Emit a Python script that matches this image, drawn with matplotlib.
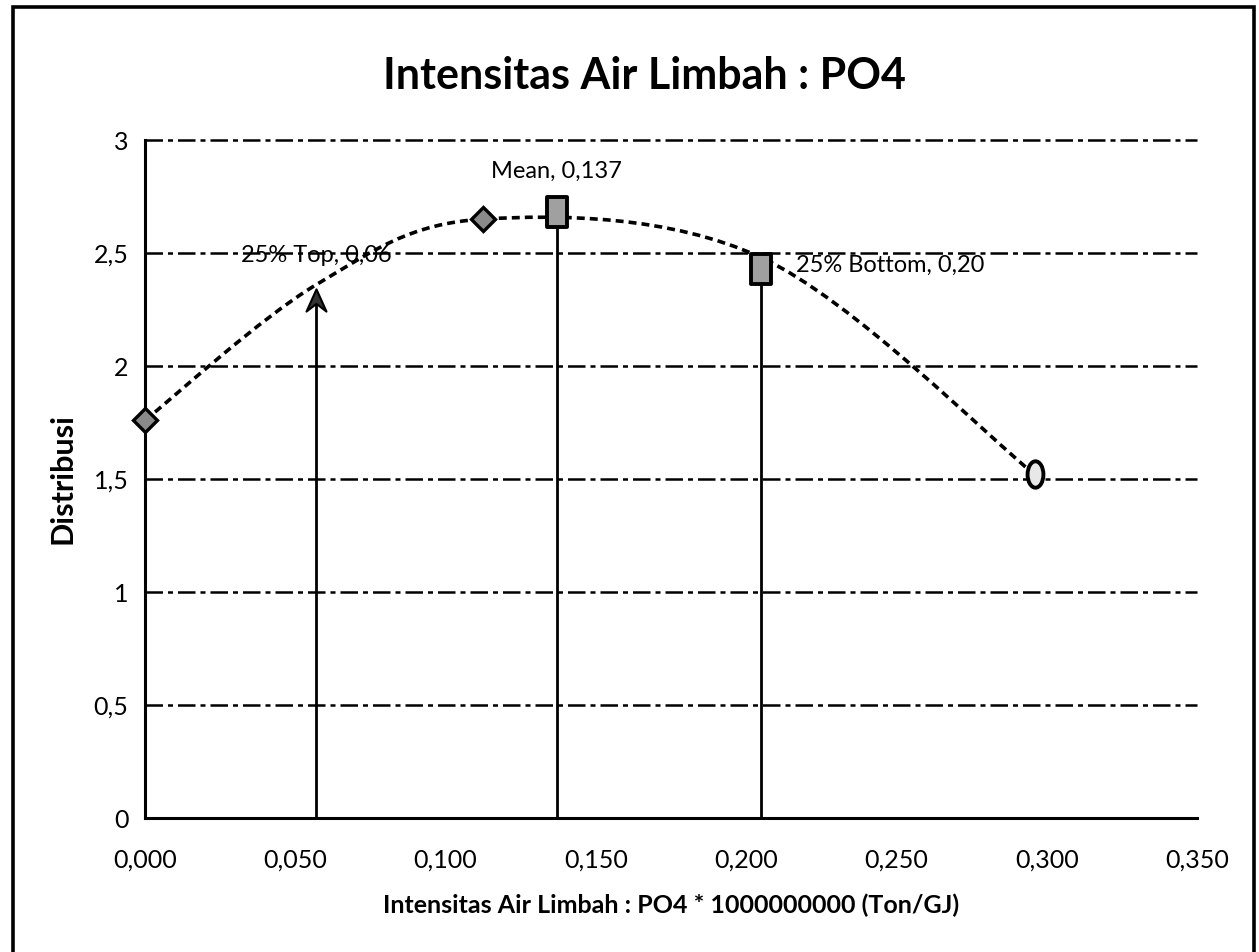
import matplotlib
matplotlib.use("Agg")
import matplotlib.pyplot as plt
from matplotlib.path import Path
from matplotlib.patches import PathPatch, Rectangle

# ---- data ----
curve_x = [0.000, 0.057, 0.1125, 0.205, 0.296]
curve_y = [1.76, 2.36, 2.65, 2.48, 1.52]

diamond_x = [0.000, 0.1125]
diamond_y = [1.76, 2.65]

top_x, top_y = 0.057, 2.29
mean_x, mean_y = 0.137, 2.68
bottom_x, bottom_y = 0.205, 2.43
end_x, end_y = 0.296, 1.52

label_top = "25% Top, 0,06"
label_mean = "Mean, 0,137"
label_bottom = "25% Bottom, 0,20"

xticks = [0.0, 0.05, 0.10, 0.15, 0.20, 0.25, 0.30, 0.35]
xticklabels = ["0,000", "0,050", "0,100", "0,150", "0,200", "0,250", "0,300", "0,350"]
yticks = [0, 0.5, 1, 1.5, 2, 2.5, 3]
yticklabels = ["0", "0,5", "1", "1,5", "2", "2,5", "3"]

title = "Intensitas Air Limbah : PO4"
xlabel = "Intensitas Air Limbah : PO4 * 1000000000 (Ton/GJ)"
ylabel = "Distribusi"

plt.rcParams['font.family'] = ['Lato', 'DejaVu Sans']

W, H = 1259, 952
fig = plt.figure(figsize=(W / 100, H / 100), dpi=100)
fig.patch.set_facecolor('white')

L, R, T, B = 145, 1197, 140, 818
ax = fig.add_axes([L / W, 1 - B / H, (R - L) / W, (B - T) / H])
ax.set_xlim(0, 0.35)
ax.set_ylim(0, 3)

# spines
for s in ['top', 'right']:
    ax.spines[s].set_visible(False)
ax.spines['left'].set_linewidth(2.2)
ax.spines['bottom'].set_linewidth(2.2)
ax.spines['left'].set_color('black')
ax.spines['bottom'].set_color('black')

ax.set_xticks(xticks)
ax.set_xticklabels(xticklabels)
ax.set_yticks(yticks)
ax.set_yticklabels(yticklabels)
ax.tick_params(axis='both', length=0, labelsize=18, colors='black')
ax.tick_params(axis='x', pad=22)
ax.tick_params(axis='y', pad=12)

# gridlines (dash-dot, as scanned)
for yv in yticks[1:]:
    ax.axhline(yv, color='black', lw=1.8, ls=(0, (7, 2, 2, 2)), zorder=1, clip_on=False)

# smoothed (Excel-like) curve through curve points
pts = list(zip(curve_x, curve_y))
verts = [pts[0]]
codes = [Path.MOVETO]
n = len(pts)
for i in range(n - 1):
    p0 = pts[i - 1] if i > 0 else pts[i]
    p1 = pts[i]
    p2 = pts[i + 1]
    p3 = pts[i + 2] if i + 2 < n else pts[i + 1]
    c1 = (p1[0] + (p2[0] - p0[0]) / 6, p1[1] + (p2[1] - p0[1]) / 6)
    c2 = (p2[0] - (p3[0] - p1[0]) / 6, p2[1] - (p3[1] - p1[1]) / 6)
    verts += [c1, c2, p2]
    codes += [Path.CURVE4] * 3
curve = PathPatch(Path(verts, codes), facecolor='none', edgecolor='black',
                  lw=2.6, ls=(0, (2.2, 1.4)), transform=ax.transData, zorder=3)
ax.add_patch(curve)

# vertical drop lines
ax.vlines([top_x, mean_x, bottom_x], 0, [top_y, mean_y, bottom_y],
          colors='black', lw=2.0, zorder=2)

# markers
ax.plot(diamond_x, diamond_y, ls='none', marker='D', ms=12, mfc='#8a8a8a',
        mec='black', mew=2.4, zorder=5, clip_on=False)

arrow = Path([(0, 0.5), (0.45, -0.5), (0, -0.15), (-0.45, -0.5), (0, 0.5)],
             [Path.MOVETO, Path.LINETO, Path.LINETO, Path.LINETO, Path.CLOSEPOLY])
ax.plot([top_x], [top_y], ls='none', marker=arrow, ms=16, mfc='#333333',
        mec='black', mew=1.5, zorder=5)

rect = Path([(-0.33, -0.5), (0.33, -0.5), (0.33, 0.5), (-0.33, 0.5), (-0.33, -0.5)],
            [Path.MOVETO, Path.LINETO, Path.LINETO, Path.LINETO, Path.CLOSEPOLY])
ax.plot([mean_x, bottom_x], [mean_y, bottom_y], ls='none', marker=rect, ms=21,
        mfc='#a0a0a0', mec='black', mew=2.8, zorder=5)

ellipse_m = Path.unit_circle().transformed(
    matplotlib.transforms.Affine2D().scale(0.3, 0.5))
ax.plot([end_x], [end_y], ls='none', marker=ellipse_m, ms=19, mfc='#e8e8e8',
        mec='black', mew=2.8, zorder=5)

# data labels
ax.text(top_x, 2.49, label_top, ha='center', va='center', fontsize=17, zorder=6)
ax.text(mean_x, 2.86, label_mean, ha='center', va='center', fontsize=17, zorder=6)
ax.text(0.2165, 2.445, label_bottom, ha='left', va='center', fontsize=17, zorder=6)

# titles
fig.text(644 / W, 1 - 76 / H, title, ha='center', va='center',
         fontsize=31, fontweight='bold')
fig.text(671 / W, 1 - 905 / H, xlabel, ha='center', va='center',
         fontsize=18, fontweight='bold')
fig.text(62 / W, 1 - 479 / H, ylabel, ha='center', va='center', rotation=90,
         fontsize=22, fontweight='bold')

# chart frame
fig.patches.append(Rectangle((13 / W, -0.02), (1254 - 13) / W, 1 - 7 / H + 0.02,
                             transform=fig.transFigure, fill=False,
                             edgecolor='black', lw=2.6))

fig.savefig('out.png', dpi=100, facecolor='white')
